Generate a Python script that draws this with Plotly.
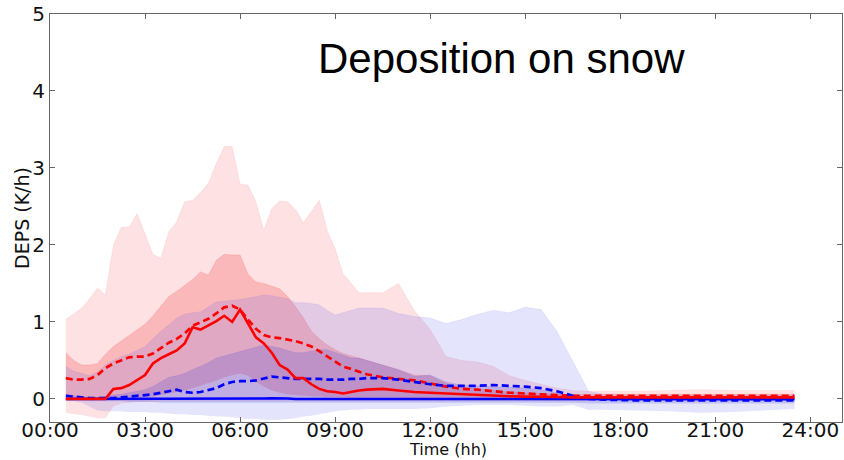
import plotly.graph_objects as go

# Time of day in hours (15-min steps in the morning, coarser later)
hours = [0.5, 0.75, 1.0, 1.25, 1.5, 1.75, 2.0, 2.25, 2.5, 2.75, 3.0, 3.25, 3.5, 3.75,
         4.0, 4.25, 4.5, 4.75, 5.0, 5.25, 5.5, 5.75, 6.0, 6.25, 6.5, 6.75, 7.0, 7.25,
         7.5, 7.75, 8.0, 8.25, 8.5, 8.75, 9.0, 9.25, 9.5, 9.75, 10.0,
         10.5, 11.0, 11.5, 12.0, 12.5, 13.0, 13.5, 14.0, 14.5, 15.0, 15.5, 16.0, 16.5,
         17.0, 17.5, 18.5, 19.5, 20.5, 21.5, 22.5, 23.5]

# Red run: outer envelope
red_outer_hi = [1.03, 1.10, 1.18, 1.30, 1.44, 1.35, 2.00, 2.23, 2.23, 2.41, 2.15, 1.88, 1.83, 2.17,
                2.30, 2.56, 2.58, 2.68, 2.80, 3.06, 3.28, 3.28, 2.79, 2.78, 2.56, 2.19, 2.47, 2.57,
                2.56, 2.46, 2.29, 2.43, 2.58, 2.19, 1.95, 1.63, 1.50, 1.38, 1.38,
                1.38, 1.50, 1.15, 0.90, 0.55, 0.50, 0.48, 0.42, 0.30, 0.24, 0.19, 0.14, 0.11,
                0.10, 0.10, 0.10, 0.11, 0.12, 0.11, 0.11, 0.11]
red_outer_lo = [-0.18, -0.20, -0.21, -0.23, -0.25, -0.25, -0.10, -0.06, -0.05, -0.04, -0.04, -0.04, -0.03, -0.03,
                -0.03, -0.03, -0.03, -0.03, -0.03, -0.03, -0.03, -0.03, -0.03, -0.03, -0.03, -0.03, -0.03, -0.03,
                -0.03, -0.03, -0.03, -0.03, -0.03, -0.03, -0.03, -0.03, -0.03, -0.03, -0.03,
                -0.03, -0.03, -0.03, -0.03, -0.03, -0.03, -0.03, -0.03, -0.03, -0.03, -0.03, -0.03, -0.03,
                -0.03, -0.03, -0.03, -0.03, -0.03, -0.03, -0.03, -0.03]
# Red run: inner envelope
red_inner_hi = [0.60, 0.50, 0.44, 0.44, 0.46, 0.58, 0.68, 0.75, 0.82, 0.90, 0.97, 1.08, 1.20, 1.33,
                1.40, 1.47, 1.55, 1.65, 1.61, 1.80, 1.88, 1.87, 1.87, 1.62, 1.52, 1.50, 1.46, 1.43,
                1.33, 1.20, 1.05, 0.88, 0.78, 0.70, 0.64, 0.59, 0.56, 0.53, 0.50,
                0.45, 0.38, 0.31, 0.30, 0.20, 0.15, 0.13, 0.11, 0.09, 0.08, 0.07, 0.06, 0.06,
                0.06, 0.06, 0.06, 0.06, 0.06, 0.06, 0.06, 0.06]
red_inner_lo = [0.00, 0.00, 0.00, 0.00, 0.00, 0.00, 0.00, 0.00, 0.00, 0.01, 0.02, 0.03, 0.05, 0.07,
                0.09, 0.11, 0.14, 0.17, 0.20, 0.24, 0.28, 0.31, 0.33, 0.30, 0.22, 0.16, 0.11, 0.08,
                0.06, 0.05, 0.04, 0.03, 0.03, 0.02, 0.02, 0.02, 0.01, 0.01, 0.01,
                0.01, 0.01, 0.01, 0.00, 0.00, 0.00, 0.00, 0.00, 0.00, 0.00, 0.00, 0.00, 0.00,
                0.00, 0.00, 0.00, 0.00, 0.00, 0.00, 0.00, 0.00]

# Blue run: outer envelope
blue_outer_hi = [0.42, 0.36, 0.33, 0.30, 0.35, 0.44, 0.50, 0.55, 0.58, 0.63, 0.68, 0.78, 0.88, 0.96,
                 1.05, 1.10, 1.12, 1.13, 1.20, 1.26, 1.27, 1.28, 1.29, 1.31, 1.33, 1.35, 1.34, 1.32,
                 1.30, 1.25, 1.25, 1.24, 1.22, 1.15, 1.09, 1.12, 1.15, 1.18, 1.18,
                 1.18, 1.11, 1.07, 1.05, 0.98, 1.03, 1.10, 1.15, 1.12, 1.19, 1.16, 0.88, 0.50,
                 0.10, 0.06, 0.05, 0.05, 0.05, 0.05, 0.05, 0.05]
blue_outer_lo = [-0.02, -0.03, -0.05, -0.10, -0.15, -0.16, -0.16, -0.16, -0.17, -0.17, -0.17, -0.18, -0.18, -0.19,
                 -0.20, -0.20, -0.21, -0.21, -0.22, -0.23, -0.23, -0.24, -0.25, -0.26, -0.26, -0.27, -0.27, -0.27,
                 -0.26, -0.25, -0.23, -0.22, -0.20, -0.18, -0.16, -0.15, -0.14, -0.14, -0.13,
                 -0.13, -0.13, -0.13, -0.12, -0.10, -0.09, -0.08, -0.08, -0.08, -0.09, -0.10, -0.10, -0.08,
                 -0.14, -0.14, -0.15, -0.16, -0.18, -0.17, -0.15, -0.13]
# Blue run: inner envelope
blue_inner_hi = [0.06, 0.04, 0.03, 0.02, 0.02, 0.03, 0.05, 0.06, 0.08, 0.10, 0.12, 0.16, 0.22, 0.28,
                 0.30, 0.33, 0.38, 0.42, 0.47, 0.53, 0.56, 0.59, 0.61, 0.64, 0.67, 0.70, 0.68, 0.66,
                 0.63, 0.60, 0.60, 0.62, 0.64, 0.64, 0.60, 0.56, 0.53, 0.53, 0.50,
                 0.45, 0.38, 0.29, 0.31, 0.22, 0.18, 0.17, 0.16, 0.15, 0.14, 0.12, 0.08, 0.04,
                 0.02, 0.02, 0.02, 0.02, 0.02, 0.02, 0.02, 0.02]
blue_inner_lo = [-0.02, -0.02, -0.02, -0.03, -0.03, -0.03, -0.03, -0.03, -0.04, -0.04, -0.04, -0.04, -0.05, -0.05,
                 -0.05, -0.05, -0.05, -0.05, -0.05, -0.05, -0.05, -0.05, -0.05, -0.05, -0.05, -0.05, -0.05, -0.05,
                 -0.05, -0.05, -0.05, -0.05, -0.05, -0.05, -0.05, -0.05, -0.05, -0.05, -0.05,
                 -0.05, -0.05, -0.05, -0.05, -0.05, -0.05, -0.05, -0.05, -0.05, -0.05, -0.05, -0.05, -0.05,
                 -0.06, -0.06, -0.06, -0.06, -0.06, -0.06, -0.06, -0.06]

# Central curves
red_solid = [0.00, 0.00, 0.00, 0.00, 0.00, 0.00, 0.13, 0.14, 0.18, 0.25, 0.31, 0.46, 0.53, 0.58,
             0.63, 0.72, 0.93, 0.90, 0.95, 1.01, 1.08, 1.00, 1.16, 0.98, 0.80, 0.72, 0.60, 0.44,
             0.38, 0.27, 0.27, 0.19, 0.13, 0.10, 0.09, 0.07, 0.09, 0.11, 0.12,
             0.13, 0.11, 0.09, 0.08, 0.07, 0.06, 0.05, 0.04, 0.035, 0.03, 0.03, 0.025, 0.02,
             0.02, 0.02, 0.02, 0.02, 0.02, 0.02, 0.02, 0.02]
red_dashed = [0.27, 0.25, 0.25, 0.26, 0.31, 0.40, 0.46, 0.50, 0.54, 0.55, 0.55, 0.59, 0.66, 0.73,
              0.78, 0.85, 0.95, 1.00, 1.04, 1.11, 1.19, 1.21, 1.16, 1.03, 0.91, 0.83, 0.80, 0.79,
              0.77, 0.75, 0.72, 0.68, 0.62, 0.55, 0.48, 0.42, 0.39, 0.35, 0.32,
              0.28, 0.26, 0.24, 0.20, 0.16, 0.13, 0.12, 0.10, 0.08, 0.07, 0.06, 0.05, 0.04,
              0.04, 0.04, 0.04, 0.04, 0.04, 0.04, 0.04, 0.04]
blue_solid = [0.00, 0.00, 0.00, 0.00, 0.00, 0.00, 0.00, 0.00, 0.00, 0.00, 0.00, 0.00, 0.00, 0.00,
              0.00, 0.00, 0.00, 0.00, 0.00, 0.00, 0.00, 0.00, 0.00, 0.00, 0.00, 0.005, 0.01, 0.01,
              0.005, 0.00, 0.00, 0.00, 0.00, 0.00, 0.00, 0.00, 0.00, 0.00, 0.00,
              0.00, 0.00, 0.00, 0.00, 0.00, 0.00, 0.00, 0.00, 0.00, 0.00, 0.00, 0.00, 0.00,
              -0.005, -0.005, -0.005, -0.005, -0.005, -0.005, -0.005, -0.005]
blue_dashed = [0.04, 0.03, 0.02, 0.01, 0.01, 0.01, 0.01, 0.02, 0.03, 0.04, 0.05, 0.06, 0.08, 0.10,
               0.12, 0.09, 0.08, 0.09, 0.12, 0.14, 0.19, 0.22, 0.23, 0.23, 0.24, 0.27, 0.29, 0.28,
               0.27, 0.26, 0.26, 0.26, 0.26, 0.25, 0.25, 0.25, 0.26, 0.26, 0.27,
               0.27, 0.25, 0.22, 0.19, 0.17, 0.17, 0.17, 0.18, 0.17, 0.16, 0.14, 0.10, 0.04,
               0.00, -0.01, -0.02, -0.02, -0.02, -0.02, -0.02, -0.02]

tick_hours = [0, 3, 6, 9, 12, 15, 18, 21, 24]
tick_labels = ["00:00", "03:00", "06:00", "09:00", "12:00", "15:00", "18:00", "21:00", "24:00"]

fig = go.Figure()


def add_band(lo, hi, rgba):
    fig.add_trace(go.Scatter(x=hours, y=lo, mode="lines", line=dict(width=0),
                             hoverinfo="skip", showlegend=False))
    fig.add_trace(go.Scatter(x=hours, y=hi, mode="lines", fill="tonexty", fillcolor=rgba,
                             line=dict(width=0.6, color=rgba), hoverinfo="skip", showlegend=False))


add_band(red_outer_lo, red_outer_hi, "rgba(245,80,90,0.17)")
add_band(red_inner_lo, red_inner_hi, "rgba(245,40,40,0.22)")
add_band(blue_outer_lo, blue_outer_hi, "rgba(90,90,235,0.16)")
add_band(blue_inner_lo, blue_inner_hi, "rgba(60,60,220,0.20)")

dash = "7px,4px"
fig.add_trace(go.Scatter(x=hours, y=red_dashed, mode="lines",
                         line=dict(color="#ff0000", width=2.7, dash=dash), showlegend=False))
fig.add_trace(go.Scatter(x=hours, y=blue_dashed, mode="lines",
                         line=dict(color="#0000ff", width=2.7, dash=dash), showlegend=False))
fig.add_trace(go.Scatter(x=hours, y=blue_solid, mode="lines",
                         line=dict(color="#0000ff", width=2.5), showlegend=False))
fig.add_trace(go.Scatter(x=hours, y=red_solid, mode="lines",
                         line=dict(color="#ff0000", width=2.6), showlegend=False))

fig.add_annotation(text="Deposition on snow", x=0.57, y=0.892, xref="paper", yref="paper",
                   showarrow=False, xanchor="center", yanchor="middle",
                   font=dict(family="Liberation Sans, Arial, sans-serif", size=42, color="#000000"))
fig.add_annotation(text="Time (hh)", x=0.503, y=-0.0929, xref="paper", yref="paper",
                   showarrow=False, xanchor="center", yanchor="bottom", borderpad=0,
                   font=dict(family="DejaVu Sans, sans-serif", size=16, color="#111111"))
fig.add_annotation(text="DEPS (K/h)", x=-0.0354, y=0.5, xref="paper", yref="paper",
                   showarrow=False, xanchor="center", yanchor="middle", textangle=-90,
                   font=dict(family="DejaVu Sans, sans-serif", size=19, color="#111111"))

axis_common = dict(showline=True, linecolor="#666666", linewidth=1.2, mirror="ticks",
                   ticks="inside", ticklen=5, tickcolor="#666666", showgrid=False, zeroline=False,
                   automargin=False,
                   tickfont=dict(family="DejaVu Sans, sans-serif", size=20, color="#111111"))

fig.update_xaxes(range=[0, 25], tickvals=tick_hours, ticktext=tick_labels,
                 ticklabelstandoff=-10, **axis_common)
fig.update_yaxes(range=[-0.3, 5], tickvals=[0, 1, 2, 3, 4, 5], **axis_common)

fig.update_layout(width=844, height=460, margin=dict(l=50, r=2, t=14, b=38),
                  plot_bgcolor="white", paper_bgcolor="white")

fig.write_html("out.html")
